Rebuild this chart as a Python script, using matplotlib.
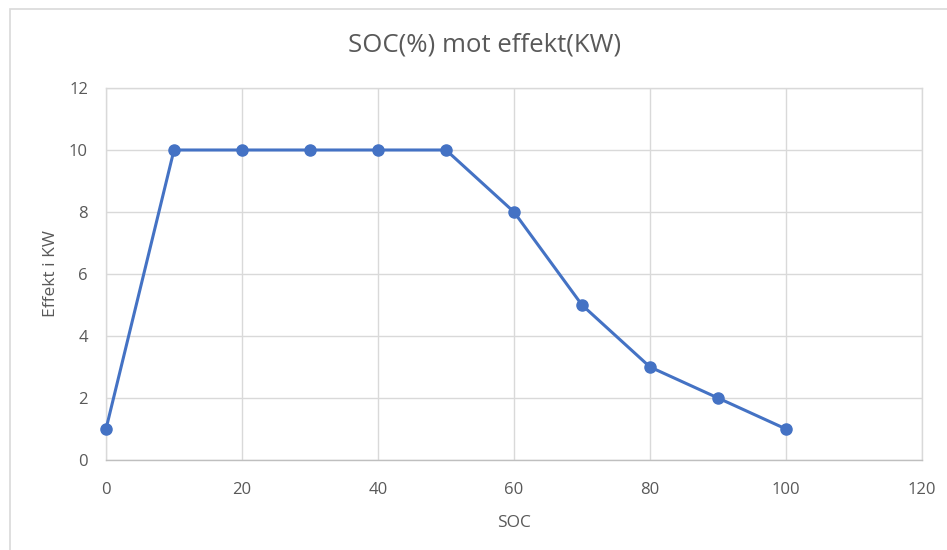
import matplotlib.pyplot as plt
from matplotlib.patches import Rectangle

soc = [0, 10, 20, 30, 40, 50, 60, 70, 80, 90, 100]
effekt = [1, 10, 10, 10, 10, 10, 8, 5, 3, 2, 1]

plt.rcParams['font.family'] = ['Open Sans', 'DejaVu Sans']

fig = plt.figure(figsize=(9.47, 5.5), dpi=100)
# light outer frame of the chart box
fig.patches.append(Rectangle((10/947, -0.01), 1.0, 1 - 9/550 + 0.01, transform=fig.transFigure,
                             facecolor='none', edgecolor='#d9d9d9', linewidth=1.2, zorder=-1))

ax = fig.add_axes([106/947, 90/550, 816/947, 372/550])
ax.set_facecolor('none')
ax.plot(soc, effekt, color='#4472c4', linewidth=2.2, marker='o', markersize=8, zorder=3, clip_on=False)

ax.set_xlim(0, 120)
ax.set_ylim(0, 12)
ax.set_xticks(range(0, 121, 20))
ax.set_yticks(range(0, 13, 2))
ax.grid(True, color='#d9d9d9', linewidth=1)
ax.set_axisbelow(True)
for s in ax.spines.values():
    s.set_color('#d9d9d9')
    s.set_linewidth(1)
ax.spines['bottom'].set_color('#bfbfbf')
ax.tick_params(length=0, labelsize=12, colors='#595959')
ax.tick_params(axis='x', pad=16)
ax.tick_params(axis='y', pad=13)

# title is centred on the whole chart box, not on the plot area
fig.text(485/947, 1 - 45/550, 'SOC(%) mot effekt(KW)', fontsize=18.5, color='#595959',
         ha='center', va='center')
ax.set_xlabel('SOC', fontsize=12.5, color='#595959', labelpad=12)
ax.set_ylabel('Effekt i KW', fontsize=12.5, color='#595959', labelpad=7)

fig.savefig('out.png', dpi=100)
